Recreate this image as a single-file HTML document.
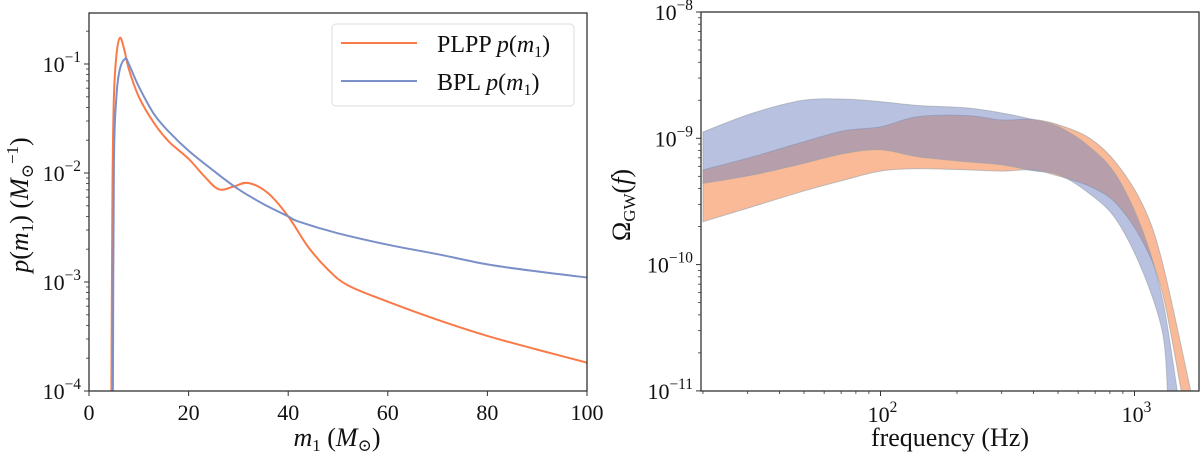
<!DOCTYPE html>
<html><head><meta charset="utf-8">
<style>
html,body{margin:0;padding:0;background:#fff;}
svg{display:block;font-family:"Liberation Serif","DejaVu Serif",serif;}
</style></head>
<body>
<svg id="fig" width="1200" height="454" viewBox="0 0 1200 454" xmlns="http://www.w3.org/2000/svg"></svg>
<script>
// ---- Left chart data ----
const plppMass = [4.5,4.7,5,5.5,6.2,7,8,10,13,16,20,23,26,29,32,36,40,44,48,52,60,70,80,90,100];
const plppVals = [1e-4,0.006,0.05,0.12,0.174,0.14,0.09,0.05,0.029,0.0195,0.0135,0.0095,0.0071,0.0075,0.0081,0.0065,0.004,0.0021,0.0013,0.00093,0.00066,0.00045,0.00032,0.00024,0.000182];
const bplMass = [4.8,5,5.5,6.2,7.3,8,10,13,16,20,25,30,35,40,42,50,60,70,80,90,100];
const bplVals = [1e-4,0.012,0.05,0.09,0.112,0.1,0.062,0.035,0.024,0.016,0.0105,0.0071,0.0052,0.0040,0.0036,0.0028,0.0022,0.0018,0.00145,0.00125,0.0011];
const leftXTicks = [0,20,40,60,80,100];
const leftYTicks = [-4,-3,-2,-1];
// ---- Right chart data ----
const bandFreq = [20,31.5,49.4,72,100,140,220,300,396,505,667,851,1085,1290];
const blueUpper = [-8.95,-8.80,-8.70,-8.69,-8.71,-8.74,-8.76,-8.80,-8.85,-8.91,-9.07,-9.30,-9.75,-10.28];
const blueUpperEnd = [1480,-11];
const blueLower = [-9.357,-9.29,-9.20,-9.12,-9.09,-9.146,-9.185,-9.21,-9.256,-9.29,-9.44,-9.65,-10.07,-10.54];
const blueLowerEnd = [1350,-11];
const orangeUpper = [-9.25,-9.146,-9.03,-8.94,-8.91,-8.83,-8.82,-8.855,-8.85,-8.895,-9.0,-9.2,-9.54,-9.99];
const orangeUpperEnd = [1675,-11];
const orangeLower = [-9.66,-9.54,-9.42,-9.33,-9.26,-9.24,-9.25,-9.26,-9.25,-9.30,-9.38,-9.52,-9.83,-10.23];
const orangeLowerEnd = [1535,-11];
const rightXTicks = [2,3];
const rightYTicks = [-11,-10,-9,-8];

const NS="http://www.w3.org/2000/svg";
const svg=document.getElementById('fig');
function mk(tag,attrs,parent){const e=document.createElementNS(NS,tag);for(const k in attrs)e.setAttribute(k,attrs[k]);(parent||svg).appendChild(e);return e;}

const L={x0:89,x1:587,y0:391,y1:13};
const lx=m=>L.x0+(m/100)*(L.x1-L.x0);
const ly=v=>L.y0-(Math.log10(v)+4)*109;
const R={x0:701,x1:1199,y0:391,y1:12};
const rx=f=>880.5+(Math.log10(f)-2)*254;
const ry=lg=>12+(-8-lg)*126.3;

const defs=mk('defs',{});
const cpL=mk('clipPath',{id:'clipL'},defs);mk('rect',{x:L.x0,y:L.y1,width:L.x1-L.x0,height:L.y0-L.y1},cpL);
const cpR=mk('clipPath',{id:'clipR'},defs);mk('rect',{x:R.x0,y:R.y1,width:R.x1-R.x0,height:R.y0-R.y1},cpR);

function smooth(pts){let d='M'+pts[0][0].toFixed(1)+','+pts[0][1].toFixed(1);
 for(let i=0;i<pts.length-1;i++){const p0=pts[i-1]||pts[i],p1=pts[i],p2=pts[i+1],p3=pts[i+2]||p2;
  const c1=[p1[0]+(p2[0]-p0[0])/6,p1[1]+(p2[1]-p0[1])/6],c2=[p2[0]-(p3[0]-p1[0])/6,p2[1]-(p3[1]-p1[1])/6];
  d+=' C'+c1[0].toFixed(1)+','+c1[1].toFixed(1)+' '+c2[0].toFixed(1)+','+c2[1].toFixed(1)+' '+p2[0].toFixed(1)+','+p2[1].toFixed(1);}
 return d;}

const gL=mk('g',{'clip-path':'url(#clipL)'});

let p=mk('path',{d:smooth(plppMass.map((m,i)=>[lx(m),ly(plppVals[i])])),fill:'none',stroke:'#fa7a47','stroke-width':2},gL);


p=mk('path',{d:smooth(bplMass.map((m,i)=>[lx(m),ly(bplVals[i])])),fill:'none',stroke:'#7b8fc8','stroke-width':2},gL);



function band(up,upEnd,lo,loEnd,fill,name){
 const top=bandFreq.map((f,i)=>[rx(f),ry(up[i])]);top.push([rx(upEnd[0]),ry(upEnd[1])+3]);
 const bot=bandFreq.map((f,i)=>[rx(f),ry(lo[i])]);bot.push([rx(loEnd[0]),ry(loEnd[1])+3]);
 const dTop=smooth(top);const dBot=smooth(bot.slice().reverse());
 const d=dTop+' L'+dBot.slice(1)+' Z';
 const e=mk('path',{d:d,fill:fill,'fill-opacity':0.5,stroke:'#9aa0a8','stroke-width':1,'stroke-opacity':0.6},gR);
 
 
}
const gR=mk('g',{'clip-path':'url(#clipR)'});

band(orangeUpper,orangeUpperEnd,orangeLower,orangeLowerEnd,'#f67530','plpp-omega-band');
band(blueUpper,blueUpperEnd,blueLower,blueLowerEnd,'#7184bf','bpl-omega-band');

function frame(A,name){const r=mk('rect',{x:A.x0,y:A.y1,width:A.x1-A.x0,height:A.y0-A.y1,fill:'none',stroke:'#333','stroke-width':1.3});
 }
frame(L,'left-axes-frame');frame(R,'right-axes-frame');

function sup(parent,x,y,base,exp,anchor,size,name){
 const t=mk('text',{x:x,y:y,'text-anchor':anchor,'font-size':size,fill:'#111'},parent);
 
 
 t.appendChild(document.createTextNode(base));
 const s=mk('tspan',{dy:-10,'font-size':size*0.7},t);s.textContent=exp;return t;}

leftXTicks.forEach(v=>{const x=lx(v);mk('line',{x1:x,x2:x,y1:L.y0,y2:L.y0+5,stroke:'#333'});
 const t=mk('text',{x:x,y:L.y0+29,'text-anchor':'middle','font-size':22,fill:'#111'});
 
 
 t.textContent=v;});
leftYTicks.forEach(e=>{const y=ly(Math.pow(10,e));mk('line',{x1:L.x0-5,x2:L.x0,y1:y,y2:y,stroke:'#333'});
 sup(svg,L.x0-8,y+8,'10','\u2212'+(-e),'end',22,'left-y-tick-label');
 for(let k=2;k<10;k++){const v=k*Math.pow(10,e);const yy=ly(v);if(yy<L.y1)break;mk('line',{x1:L.x0-3,x2:L.x0,y1:yy,y2:yy,stroke:'#333','stroke-width':0.8});}});
rightYTicks.forEach(e=>{const y=ry(e);mk('line',{x1:R.x0-5,x2:R.x0,y1:y,y2:y,stroke:'#333'});
 sup(svg,R.x0-8,y+8,'10','\u2212'+(-e),'end',22,'right-y-tick-label');
 if(e<-8)for(let k=2;k<10;k++){const yy=ry(e+Math.log10(k));mk('line',{x1:R.x0-3,x2:R.x0,y1:yy,y2:yy,stroke:'#333','stroke-width':0.8});}});
rightXTicks.forEach(e=>{const x=rx(Math.pow(10,e));mk('line',{x1:x,x2:x,y1:R.y0,y2:R.y0+5,stroke:'#333'});
 sup(svg,x+2,R.y0+31,'10',String(e),'middle',22,'right-x-tick-label');});
[20,30,40,50,60,70,80,90,200,300,400,500,600,700,800,900,1000,2000].forEach(f=>{const x=rx(f);if(x<R.x0||x>R.x1)return;mk('line',{x1:x,x2:x,y1:R.y0,y2:R.y0+3,stroke:'#333','stroke-width':0.8});});

let t=mk('text',{x:337,y:446,'text-anchor':'middle','font-size':26,fill:'#111','font-style':'italic'});


t.innerHTML='m<tspan font-size="17" dy="5" font-style="normal">1</tspan><tspan dy="-5" font-style="normal"> (</tspan>M<tspan font-size="17" dy="5" font-style="normal">⊙</tspan><tspan dy="-5" font-style="normal">)</tspan>';
t=mk('text',{x:0,y:0,'text-anchor':'middle','font-size':26,fill:'#111','font-style':'italic',transform:'translate(28,205) rotate(-90)'});


t.innerHTML='p<tspan font-style="normal">(</tspan>m<tspan font-size="17" dy="5" font-style="normal">1</tspan><tspan dy="-5" font-style="normal">)  (</tspan>M<tspan font-size="17" dy="5" font-style="normal">⊙</tspan><tspan font-size="17" dy="-15" font-style="normal">−1</tspan><tspan dy="10" font-style="normal">)</tspan>';
t=mk('text',{x:950,y:446,'text-anchor':'middle','font-size':26,fill:'#111'});


t.textContent='frequency (Hz)';
t=mk('text',{x:0,y:0,'text-anchor':'middle','font-size':26,fill:'#111',transform:'translate(630,205) rotate(-90)'});


t.innerHTML='Ω<tspan font-size="17" dy="5">GW</tspan><tspan dy="-5">(</tspan><tspan font-style="italic">f</tspan>)';

const lg=mk('g',{});


mk('rect',{x:332,y:24,width:242,height:82,rx:4,fill:'#fff','fill-opacity':0.85,stroke:'#ddd'},lg);
mk('line',{x1:341,x2:417,y1:43,y2:43,stroke:'#fa7a47','stroke-width':2},lg);
mk('line',{x1:341,x2:417,y1:81,y2:81,stroke:'#7b8fc8','stroke-width':2},lg);
t=mk('text',{x:437,y:52,'font-size':24,fill:'#111'},lg);


t.innerHTML='PLPP <tspan font-style="italic">p</tspan>(<tspan font-style="italic">m</tspan><tspan font-size="16" dy="5">1</tspan><tspan dy="-5">)</tspan>';
t=mk('text',{x:437,y:90,'font-size':24,fill:'#111'},lg);


t.innerHTML='BPL <tspan font-style="italic">p</tspan>(<tspan font-style="italic">m</tspan><tspan font-size="16" dy="5">1</tspan><tspan dy="-5">)</tspan>';
</script>
</body></html>
